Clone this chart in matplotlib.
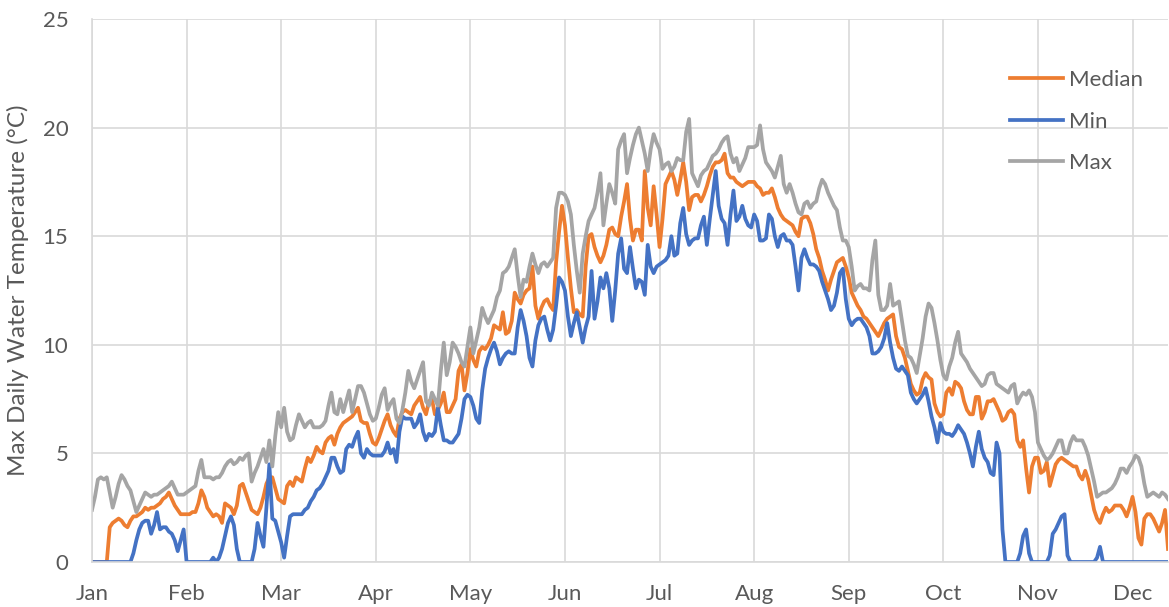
import numpy as np
import matplotlib.pyplot as plt

# Daily max water temperature (deg C), one value per day
months = ['Jan', 'Feb', 'Mar', 'Apr', 'May', 'Jun',
          'Jul', 'Aug', 'Sep', 'Oct', 'Nov', 'Dec']

median_temp = [
    0, 0, 0, 0, 0, 0, 1.6, 1.8, 1.9, 2.0,
    1.9, 1.7, 1.6, 1.9, 2.1, 2.1, 2.2, 2.3, 2.5, 2.4,
    2.5, 2.5, 2.6, 2.7, 2.9, 3.0, 3.2, 2.9, 2.6, 2.4,
    2.2, 2.2, 2.2, 2.2, 2.3, 2.3, 2.7, 3.3, 3.0, 2.5,
    2.3, 2.1, 2.2, 2.1, 1.8, 2.7, 2.6, 2.5, 2.2, 2.6,
    3.5, 3.6, 3.2, 2.8, 2.4, 2.3, 2.2, 2.5, 3.0, 3.6,
    3.9, 3.9, 3.4, 2.9, 2.8, 2.7, 3.5, 3.7, 3.5, 3.9,
    3.8, 3.7, 4.3, 4.8, 4.6, 4.9, 5.3, 5.1, 5.0, 5.5,
    5.7, 5.8, 5.4, 5.9, 6.2, 6.4, 6.5, 6.6, 6.7, 6.9,
    7.1, 6.5, 6.4, 6.4, 5.9, 5.5, 5.4, 5.7, 6.1, 6.5,
    6.8, 6.3, 6.0, 5.8, 6.6, 6.9, 7.0, 6.9, 6.8, 7.2,
    7.4, 7.6, 7.1, 6.8, 7.4, 7.5, 6.8, 7.0, 7.3, 7.8,
    6.9, 6.9, 7.2, 7.5, 8.8, 9.1, 7.9, 8.7, 9.8, 9.3,
    9.0, 9.7, 9.9, 9.8, 10.0, 10.3, 10.9, 10.8, 10.7, 11.5,
    10.5, 10.6, 11.1, 12.4, 12.1, 11.9, 12.3, 12.5, 12.6, 13.6,
    11.8, 11.2, 11.7, 12.0, 12.1, 11.8, 11.6, 13.8, 15.2, 16.4,
    15.5, 14.0, 12.6, 11.5, 11.6, 11.4, 11.3, 13.6, 15.0, 15.1,
    14.5, 14.1, 13.8, 14.1, 14.6, 15.3, 15.4, 15.1, 15.0, 15.9,
    16.6, 17.4, 15.8, 14.8, 15.3, 15.3, 14.8, 18.0, 16.3, 15.5,
    17.3, 16.0, 14.5, 15.8, 17.4, 17.7, 18.0, 17.6, 16.9, 17.6,
    18.4, 17.5, 16.2, 16.8, 16.9, 16.9, 16.6, 16.9, 17.3, 17.8,
    18.2, 18.4, 18.4, 18.5, 18.8, 17.9, 17.7, 17.7, 17.5, 17.4,
    17.3, 17.4, 17.5, 17.5, 17.5, 17.3, 17.2, 16.9, 17.0, 17.0,
    17.2, 16.8, 16.3, 16.0, 15.8, 15.7, 15.6, 15.5, 15.2, 15.0,
    15.8, 15.9, 15.9, 15.6, 15.1, 14.4, 14.0, 13.4, 13.0, 12.5,
    13.0, 13.4, 13.8, 13.9, 14.0, 13.6, 13.1, 12.4, 12.1, 11.8,
    11.6, 11.3, 11.2, 11.0, 10.8, 10.6, 10.4, 10.7, 11.0, 11.2,
    11.3, 11.4, 10.4, 9.9, 9.8, 9.4, 8.8, 8.2, 7.9, 7.7,
    7.8, 8.4, 8.7, 8.5, 8.4, 7.3, 6.9, 6.7, 6.8, 7.8,
    8.0, 7.7, 8.3, 8.2, 8.0, 7.4, 7.0, 6.8, 6.8, 7.6,
    7.6, 6.6, 6.9, 7.4, 7.4, 7.5, 7.2, 6.9, 6.5, 6.6,
    6.9, 7.0, 6.8, 5.6, 5.3, 5.6, 4.3, 3.2, 4.4, 4.8,
    4.8, 4.1, 4.2, 4.6, 3.5, 4.0, 4.5, 4.7, 4.8, 4.7,
    4.6, 4.5, 4.4, 4.4, 4.0, 3.8, 4.2, 3.8, 3.1, 2.4,
    2.0, 1.8, 2.2, 2.5, 2.3, 2.4, 2.6, 2.6, 2.6, 2.4,
    2.1, 2.5, 3.0, 2.3, 1.1, 0.8, 2.0, 2.2, 2.2, 2.0,
    1.7, 1.4, 1.8, 2.4, 0.6,
]

min_temp = [
    0, 0, 0, 0, 0, 0, 0, 0, 0, 0,
    0, 0, 0, 0, 0.4, 1.0, 1.5, 1.8, 1.9, 1.9,
    1.3, 1.7, 2.3, 1.5, 1.6, 1.6, 1.4, 1.3, 1.0, 0.5,
    1.0, 1.5, 0, 0, 0, 0, 0, 0, 0, 0,
    0, 0.2, 0, 0.2, 0.6, 1.2, 1.8, 2.1, 1.7, 0.6,
    0, 0, 0, 0, 0, 0.6, 1.8, 1.2, 0.7, 2.5,
    4.5, 2.0, 1.9, 1.4, 0.9, 0.2, 1.2, 2.1, 2.2, 2.2,
    2.2, 2.2, 2.4, 2.5, 2.8, 3.0, 3.3, 3.4, 3.6, 3.9,
    4.2, 4.8, 4.8, 4.4, 4.1, 4.2, 5.2, 5.4, 5.3, 5.7,
    6.0, 5.0, 4.8, 5.2, 5.0, 4.9, 4.9, 4.9, 4.9, 5.1,
    5.5, 5.0, 5.2, 4.6, 6.0, 6.7, 6.6, 6.6, 6.6, 6.2,
    6.4, 6.8, 6.0, 5.6, 5.9, 5.8, 6.0, 7.1, 6.3, 5.6,
    5.6, 5.5, 5.5, 5.7, 5.9, 6.6, 7.5, 7.7, 7.6, 7.2,
    6.6, 6.4, 7.9, 8.9, 9.4, 9.8, 10.1, 9.7, 9.1, 9.4,
    9.6, 9.7, 9.6, 9.6, 10.8, 11.6, 11.1, 10.4, 9.4, 9.0,
    10.2, 10.9, 11.2, 11.3, 10.7, 10.2, 10.7, 11.8, 13.1, 12.9,
    12.5, 11.3, 10.4, 11.0, 11.5, 10.8, 10.1, 10.8, 11.3, 13.4,
    11.2, 12.0, 13.1, 12.6, 13.3, 12.6, 11.1, 12.5, 14.2, 14.9,
    13.5, 13.3, 14.5, 13.5, 12.6, 13.0, 12.9, 12.3, 14.6, 13.6,
    13.3, 13.6, 13.7, 13.8, 13.9, 14.1, 15.0, 14.1, 14.2, 15.6,
    16.3, 15.1, 14.6, 14.8, 14.9, 14.9, 15.5, 15.9, 14.6, 15.8,
    16.9, 18.0, 16.4, 15.8, 15.6, 14.6, 16.0, 17.1, 15.7, 15.9,
    16.4, 15.8, 15.5, 15.4, 16.0, 15.7, 14.8, 14.8, 14.9, 16.0,
    15.8, 15.0, 14.5, 15.0, 15.1, 14.8, 14.8, 14.6, 13.6, 12.5,
    14.0, 14.4, 14.0, 13.7, 13.7, 13.6, 13.4, 12.9, 12.5, 12.1,
    11.6, 11.8, 12.4, 13.3, 13.5, 12.1, 11.2, 10.9, 11.1, 11.2,
    11.2, 11.0, 10.8, 10.4, 9.6, 9.6, 9.7, 9.9, 10.3, 11.0,
    10.1, 9.4, 8.9, 8.8, 9.0, 8.8, 8.6, 7.8, 7.5, 7.3,
    7.5, 7.7, 8.0, 7.4, 6.7, 6.2, 5.5, 6.4, 6.0, 5.9,
    5.9, 5.8, 6.0, 6.3, 6.1, 5.9, 5.5, 5.0, 4.4, 5.3,
    6.0, 5.2, 4.8, 4.6, 4.1, 4.0, 5.5, 5.0, 1.5, 0,
    0, 0, 0, 0, 0.4, 1.2, 1.5, 0.4, 0, 0,
    0, 0, 0, 0, 0.3, 1.3, 1.5, 1.8, 2.1, 2.2,
    0.3, 0, 0, 0, 0, 0, 0, 0, 0, 0,
    0.2, 0.7, 0, 0, 0, 0, 0, 0, 0, 0,
    0, 0, 0, 0, 0, 0, 0, 0, 0, 0,
    0, 0, 0, 0, 0,
]

max_temp = [
    2.4, 3.0, 3.8, 3.9, 3.8, 3.9, 3.2, 2.5, 3.0, 3.6,
    4.0, 3.8, 3.5, 3.3, 2.8, 2.3, 2.6, 2.9, 3.2, 3.1,
    3.0, 3.1, 3.1, 3.2, 3.3, 3.4, 3.5, 3.7, 3.4, 3.1,
    3.1, 3.1, 3.2, 3.3, 3.4, 3.5, 4.2, 4.7, 3.9, 3.9,
    3.9, 3.8, 3.9, 3.9, 4.1, 4.4, 4.6, 4.7, 4.5, 4.6,
    4.8, 4.7, 4.9, 5.0, 3.7, 4.1, 4.4, 4.8, 5.2, 4.6,
    5.6, 4.4, 5.8, 6.9, 6.2, 7.1, 6.0, 5.6, 5.7, 6.3,
    6.8, 6.5, 6.2, 6.4, 6.5, 6.2, 6.2, 6.2, 6.3, 6.5,
    7.2, 7.8, 6.9, 6.8, 7.5, 6.9, 7.4, 7.9, 6.9, 7.5,
    8.1, 8.1, 7.8, 7.3, 6.8, 6.5, 6.6, 7.1, 7.7, 8.0,
    7.0, 7.3, 7.5, 6.6, 6.4, 7.0, 7.8, 8.8, 8.3, 8.0,
    8.4, 8.8, 9.2, 7.4, 7.2, 7.8, 7.5, 7.2, 8.8, 10.1,
    8.6, 9.2, 10.1, 9.9, 9.6, 9.2, 9.0, 9.9, 10.8, 9.6,
    10.2, 10.8, 11.7, 11.3, 11.0, 11.3, 11.6, 12.2, 12.5, 13.3,
    13.4, 13.6, 14.0, 14.4, 13.2, 12.2, 13.0, 12.9, 13.6, 14.2,
    13.7, 13.3, 13.7, 13.8, 13.6, 13.8, 14.0, 16.3, 17.0, 17.0,
    16.9, 16.6, 16.0, 14.6, 13.4, 12.4, 14.2, 15.0, 15.7, 16.0,
    16.3, 17.0, 17.9, 15.5, 16.5, 17.4, 17.0, 16.5, 19.0, 19.4,
    19.7, 17.9, 18.6, 19.2, 19.7, 20.0, 19.4, 18.8, 18.0, 19.0,
    19.7, 19.3, 19.0, 18.1, 18.3, 18.4, 18.0, 18.2, 18.6, 18.5,
    18.5, 19.8, 20.4, 17.9, 17.6, 17.3, 17.8, 18.0, 18.1, 18.4,
    18.7, 18.8, 19.0, 19.3, 19.5, 19.6, 18.8, 18.4, 18.6, 18.0,
    18.3, 18.6, 19.1, 19.1, 19.1, 19.2, 20.1, 19.0, 18.4, 18.2,
    18.0, 17.7, 18.2, 18.7, 17.4, 17.0, 17.4, 17.0, 16.5, 16.1,
    16.0, 16.5, 16.6, 16.3, 16.5, 16.6, 17.2, 17.6, 17.4, 17.0,
    16.7, 16.4, 16.2, 15.4, 14.8, 14.8, 14.5, 13.6, 12.5, 12.7,
    12.8, 12.6, 12.6, 12.5, 13.9, 14.8, 12.3, 11.6, 11.6, 11.8,
    12.8, 11.8, 11.9, 12.0, 11.1, 10.2, 9.5, 9.4, 9.1, 8.7,
    9.5, 10.3, 11.3, 11.9, 11.7, 11.0, 10.2, 9.3, 8.6, 8.4,
    9.0, 9.4, 10.1, 10.6, 9.6, 9.4, 9.2, 8.9, 8.7, 8.5,
    8.3, 8.1, 8.2, 8.6, 8.7, 8.7, 8.2, 8.1, 8.0, 7.9,
    7.8, 8.1, 8.2, 7.3, 7.6, 7.8, 7.7, 7.9, 7.6, 6.9,
    5.5, 5.2, 4.9, 4.7, 4.8, 5.0, 5.3, 5.6, 5.6, 5.0,
    5.0, 5.5, 5.8, 5.6, 5.6, 5.6, 5.3, 4.9, 4.3, 3.7,
    3.0, 3.1, 3.2, 3.2, 3.3, 3.4, 3.6, 3.9, 4.3, 4.3,
    4.1, 4.4, 4.6, 4.9, 4.8, 4.4, 3.6, 3.0, 3.1, 3.2,
    3.1, 3.0, 3.2, 3.1, 2.9,
]

plt.rcParams['font.family'] = ['Lato', 'DejaVu Sans']
text_color = '#595959'
grid_color = '#d9d9d9'

days = np.arange(len(median_temp))

fig = plt.figure(figsize=(11.69, 6.07), dpi=100)
ax = fig.add_axes([92 / 1169, 1 - 562 / 607, 1076 / 1169, 543 / 607])

# Лінії серій
ax.plot(days, median_temp, color='#ED7D31', lw=2.7, label='Median', solid_joinstyle='round')
ax.plot(days, min_temp, color='#4472C4', lw=2.7, label='Min', solid_joinstyle='round')
ax.plot(days, max_temp, color='#A5A5A5', lw=2.7, label='Max', solid_joinstyle='round')

# Осі
ax.set_xlim(0, len(days) - 1)
ax.set_ylim(0, 25)
ax.set_yticks(range(0, 26, 5))
ax.set_xticks(range(0, 12 * 32, 32))
ax.set_xticklabels(months)
ax.tick_params(axis='both', length=0, labelsize=16, colors=text_color)
ax.tick_params(axis='y', pad=17)
ax.tick_params(axis='x', pad=16)
ax.grid(True, color=grid_color, lw=1.2)
ax.set_axisbelow(True)
for side in ['top', 'right']:
    ax.spines[side].set_visible(False)
for side in ['left', 'bottom']:
    ax.spines[side].set_color(grid_color)
    ax.spines[side].set_linewidth(1.2)

ax.set_ylabel('Max Daily Water Temperature (°C)', fontsize=17.5, color=text_color, labelpad=10)

leg = ax.legend(loc='upper left', bbox_to_anchor=(0.853, 0.906), frameon=False,
                fontsize=16, handlelength=2.4, handletextpad=0.27, labelspacing=0.97,
                borderpad=0, borderaxespad=0)
for t in leg.get_texts():
    t.set_color(text_color)

plt.savefig('out.png', dpi=100)
